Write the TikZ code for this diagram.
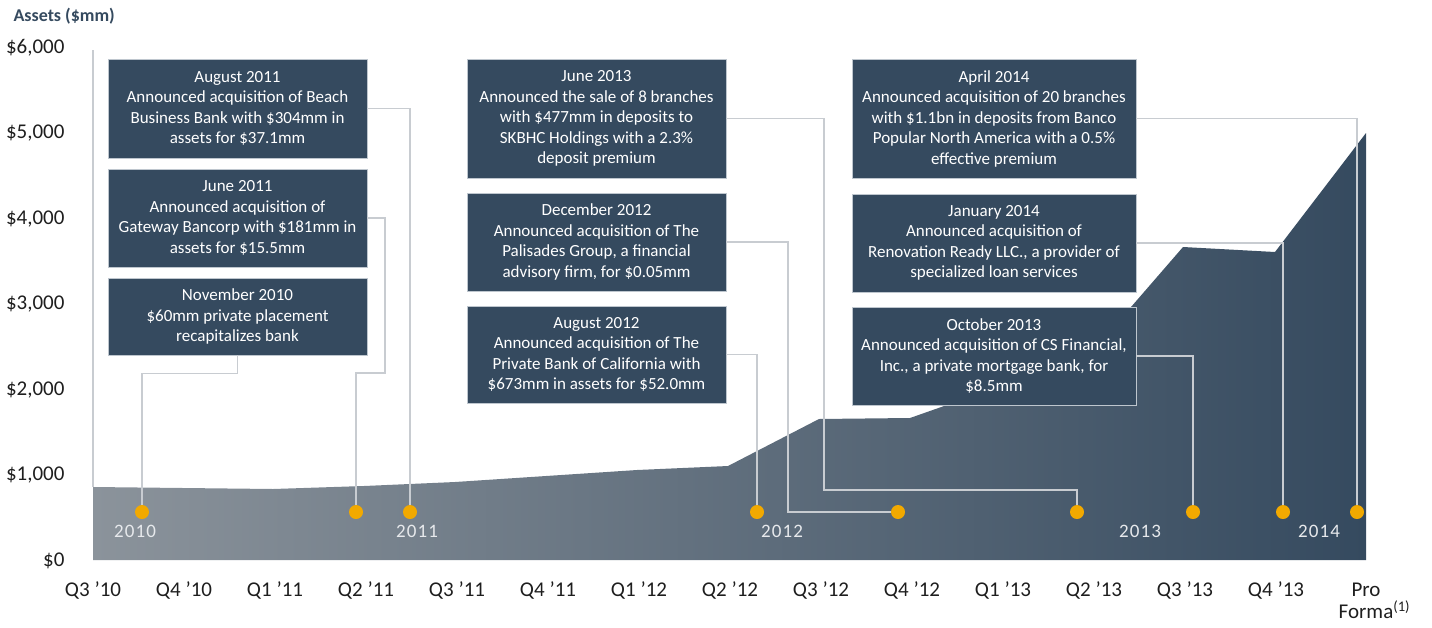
\documentclass[tikz,border=0pt]{standalone}
\usepackage{fontspec}
\setmainfont{Carlito}
\definecolor{slate}{RGB}{53,74,95}
\definecolor{midslate}{RGB}{110,121,132}
\definecolor{lightslate}{RGB}{139,147,155}
\definecolor{amber}{RGB}{242,169,0}
\definecolor{linkgray}{RGB}{200,204,209}
\definecolor{edgegray}{RGB}{190,198,206}
\definecolor{ticktext}{RGB}{30,30,30}

\begin{document}
\begin{tikzpicture}[x=1pt,y=-1pt,
    event/.style={fill=slate,draw=edgegray,line width=0.8pt,text=white,
        align=center,inner sep=0pt,font=\fontsize{17}{20.5}\selectfont},
    narrow/.style={event,minimum width=259pt},
    wide/.style={event,minimum width=284pt},
    link/.style={linkgray,line width=1.8pt},
    dot/.style={circle,fill=amber,minimum size=14pt,inner sep=0pt},
    year/.style={text=white!88!slate,
        font=\fontsize{19}{20}\selectfont\addfontfeature{LetterSpace=6}},
    tick/.style={text=ticktext,font=\fontsize{21}{22}\selectfont}]
\useasboundingbox (0,0) rectangle (1432,627);

% total assets
\shade[left color=lightslate,middle color=midslate,right color=slate]
    (93,560) -- (93,487) -- (183,488) -- (273,489) -- (364,486)
    -- (455,482) -- (546,476) -- (637,470) -- (728,466) -- (819,419)
    -- (910,418) -- (1001,386) -- (1092,352) -- (1183,247) -- (1275,252)
    -- (1366,133) -- (1366,560) -- cycle;
\draw[linkgray,line width=1.5pt] (93,50) -- (93,487);

% axes
\node[anchor=west,text=slate,font=\bfseries\fontsize{18}{20}\selectfont]
    (unit) at (10,16) {Assets (\$mm)};
\node[tick,anchor=east] (v0) at (68,561) {\$0};
\foreach \v in {1,...,6}
    \node[tick,anchor=east] (v\v) at (68,{561-85.5*\v}) {\$\v,000};
\foreach \q [count=\i from 0] in {Q3 '10,Q4 '10,Q1 '11,Q2 '11,Q3 '11,
        Q4 '11,Q1 '12,Q2 '12,Q3 '12,Q4 '12,Q1 '13,Q2 '13,Q3 '13,Q4 '13}
    \node[tick] (q\i) at ({93+91*\i},590) {\q};
\node[tick,align=center] (q14) at (1366,601) {Pro\\Forma\rlap{\textsuperscript{(1)}}};

\node[year] (y2010) at (135,531) {2010};
\node[year] (y2011) at (417,531) {2011};
\node[year] (y2012) at (782,531) {2012};
\node[year] (y2013) at (1140,531) {2013};
\node[year] (y2014) at (1319,531) {2014};

% milestones
\foreach \n/\x in {nov10/142,jun11/356,aug11/410,aug12/757,dec12/898,
        jun13/1077,oct13/1193,jan14/1283,apr14/1357}
    \node[dot] (d\n) at (\x,512) {};

\node[narrow,minimum height=99pt] (aug11) at (237.5,108.5)
    {August 2011\\Announced acquisition of Beach\\Business Bank with \$304mm in\\assets for \$37.1mm};
\node[narrow,minimum height=98pt] (jun11) at (237.5,218)
    {June 2011\\Announced acquisition of\\Gateway Bancorp with \$181mm in\\assets for \$15.5mm};
\node[narrow,minimum height=77pt] (nov10) at (237.5,316.5)
    {November 2010\\\$60mm private placement\\recapitalizes bank};

\node[narrow,minimum height=119pt] (jun13) at (596.5,118.5)
    {June 2013\\Announced the sale of 8 branches\\with \$477mm in deposits to\\SKBHC Holdings with a 2.3\%\\deposit premium};
\node[narrow,minimum height=98pt] (dec12) at (596.5,242)
    {December 2012\\Announced acquisition of The\\Palisades Group, a financial\\advisory firm, for \$0.05mm};
\node[narrow,minimum height=97pt] (aug12) at (596.5,354.5)
    {August 2012\\Announced acquisition of The\\Private Bank of California with\\\$673mm in assets for \$52.0mm};

\node[wide,minimum height=119pt] (apr14) at (994,118.5)
    {April 2014\\Announced acquisition of 20 branches\\with \$1.1bn in deposits from Banco\\Popular North America with a 0.5\%\\effective premium};
\node[wide,minimum height=98pt] (jan14) at (994,243)
    {January 2014\\Announced acquisition of\\Renovation Ready LLC., a provider of\\specialized loan services};
\node[wide,minimum height=98pt] (oct13) at (994,356)
    {October 2013\\Announced acquisition of CS Financial,\\Inc., a private mortgage bank, for\\\$8.5mm};

% leaders
\draw[link] (nov10.south) -- ++(0,18) -| (dnov10);
\draw[link] (jun11.east) -| (385,373) -| (djun11);
\draw[link] (aug11.east) -| (daug11);
\draw[link] (aug12.east) -| (daug12);
\draw[link] (dec12.east) -| (788,512) -- (ddec12);
\draw[link] (jun13.east) -| (824,490) -| (djun13);
\draw[link] (oct13.east) -| (doct13);
\draw[link] (jan14.east) -| (djan14);
\draw[link] (apr14.east) -| (dapr14);
\end{tikzpicture}
\end{document}
